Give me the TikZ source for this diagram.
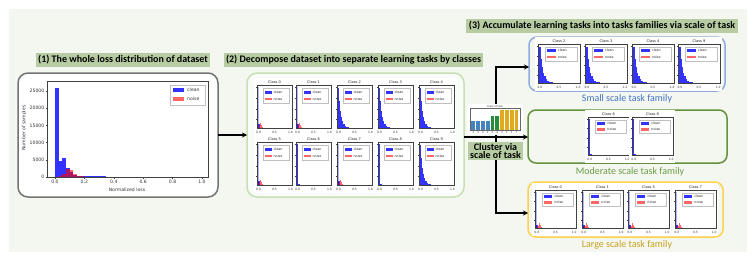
\documentclass[tikz,border=0pt]{standalone}
\usepackage{fontspec}
\setmainfont{Carlito}
\newfontfamily\plotfont{DejaVu Sans}
\usetikzlibrary{arrows.meta}
\definecolor{bgc}{RGB}{243,247,240}
\definecolor{lblc}{RGB}{183,204,163}
\definecolor{smallc}{RGB}{143,170,220}
\definecolor{smalltxt}{RGB}{68,114,196}
\definecolor{modc}{RGB}{100,145,60}
\definecolor{modtxt}{RGB}{106,156,68}
\definecolor{largec}{RGB}{255,210,80}
\definecolor{largetxt}{RGB}{200,160,30}
\definecolor{midc}{RGB}{198,224,180}
\definecolor{steel}{RGB}{70,130,190}
\definecolor{grn}{RGB}{40,140,60}
\definecolor{gold}{RGB}{225,170,30}
\tikzset{
 lbl/.style={fill=lblc, inner xsep=2.5pt, inner ysep=2pt, font=\bfseries\fontsize{10}{11}\selectfont, text height=7.5pt, text depth=2.2pt},
 clubox/.style={fill=lblc, align=center, font=\bfseries\fontsize{10}{8.8}\selectfont, inner sep=1pt, minimum width=55pt, minimum height=18pt},
 arr/.style={-{Stealth[length=5pt,width=5pt]}, line width=1.4pt},
 fam/.style={rounded corners=8pt, line width=1.5pt, inner sep=0, outer sep=0},
 famcap/.style={font=\fontsize{10}{11}\selectfont, inner sep=0},
 bb/.style={fill=blue, opacity=.8},
 rb/.style={fill=red, opacity=.6},
 lb/.style={fill=blue, opacity=.3},
 mtitle/.style={font=\plotfont\fontsize{3.6}{4}\selectfont, inner sep=0, text=black!85},
 mleg/.style={font=\plotfont\fontsize{3.3}{4}\selectfont, inner sep=0, anchor=west, text=black!85},
 mtick/.style={font=\plotfont\fontsize{3}{3.5}\selectfont, inner sep=0, text=black!80},
 stick/.style={font=\plotfont\fontsize{2.5}{3}\selectfont, inner sep=0, text=black!80},
 ptxt/.style={font=\plotfont\fontsize{4.6}{5}\selectfont, inner sep=0, text=black!80},
 frm/.style={draw=black!75, line width=.35pt},
}
\newcommand{\mhist}[7]{%
\begin{scope}[shift={(#2,#3)}]
 \fill[white] (-3,-7) rectangle (#4+2,#5+8);
 \node[mtitle] (#1t) at (#4/2,-3) {#6};
 \begin{scope}[shift={(0,#5)},xscale=#4,yscale=-#5]
  \ifcase#7\or
   \foreach \a/\b/\h in {0.03/0.06/0.92,0.06/0.09/0.62,0.09/0.12/0.40,0.12/0.15/0.26,0.15/0.18/0.17,0.18/0.22/0.10,0.22/0.27/0.05,0.27/0.35/0.02}
     \fill[bb] (\a,0) rectangle (\b,\h);
  \or
   \fill[bb] (0.035,0) rectangle (0.05,0.95);
   \fill[bb] (0.05,0) rectangle (0.10,0.02);
  \or
   \fill[lb] (0.035,0) rectangle (0.05,0.95);
   \fill[bb] (0.03,0) rectangle (0.08,0.09);
   \foreach \a/\b/\h in {0.06/0.09/0.06,0.09/0.12/0.12,0.12/0.15/0.07,0.15/0.18/0.03}
     \fill[rb] (\a,0) rectangle (\b,\h);
  \fi
  \draw[black!25,line width=.2pt,fill=white] (0.17,0.57) rectangle (0.93,0.92);
  \fill[bb] (0.22,0.80) rectangle (0.42,0.86);
  \fill[rb] (0.22,0.64) rectangle (0.42,0.70);
  \node[mleg] (#1c) at (0.47,0.83) {clean};
  \node[mleg] (#1n) at (0.47,0.67) {noise};
  \draw[frm] (0,0) rectangle (1,1);
  \foreach \t in {0.045,0.5,0.955} \draw[black!75,line width=.3pt] (\t,0) -- ++(0,-0.03);
  \foreach \t in {0.2,0.45,0.7,0.95} \draw[black!75,line width=.3pt] (0,\t) -- ++(-0.03,0);
  \node[mtick] (#1a) at (0.045,-0.11) {0.0};
  \node[mtick] (#1b) at (0.5,-0.11) {0.5};
  \node[mtick] (#1d) at (0.955,-0.11) {1.0};
 \end{scope}
\end{scope}}
\begin{document}
\begin{tikzpicture}[x=1pt,y=-1pt]
\useasboundingbox (0,0) rectangle (756,265);
\fill[bgc] (9,9) rectangle (747,252);
% section labels
\node[lbl] (l1) at (123,60) {(1) The whole loss distribution of dataset};
\node[lbl] (l2) at (353.5,60) {(2) Decompose dataset into separate learning tasks by classes};
\node[lbl] (l3) at (602,26) {(3) Accumulate learning tasks into tasks families via scale of task};
% left panel
\node[fam, draw=black!55, fill=white, rounded corners=10pt, minimum width=200pt, minimum height=124pt] (lp) at (118,135) {};
\begin{scope}[shift={(55,177)}, xscale=147, yscale=-3.44]
 \foreach \a/\b/\h in {0/0.025/26,0.025/0.05/4.6,0.05/0.075/5.6,0.075/0.1/2.6,0.1/0.125/1.4,0.125/0.15/0.7,0.15/0.2/0.35,0.2/0.35/0.15}
   \fill[bb] (\a,0) rectangle (\b,\h);
 \foreach \a/\b/\h in {0.025/0.05/0.2,0.05/0.075/0.8,0.075/0.1/2.3,0.1/0.125/2.0,0.125/0.15/1.0,0.15/0.175/0.4,0.175/0.2/0.2}
   \fill[rb] (\a,0) rectangle (\b,\h);
\end{scope}
\draw[frm] (47,81) rectangle (208,177);
\foreach \v/\n in {0/0,5/5000,10/10000,15/15000,20/20000,25/25000}{
  \draw[black!75,line width=.3pt] (47,177-3.44*\v) -- ++(-1.5,0);
  \node[ptxt, anchor=east] (yt\v) at (44.5,177-3.44*\v) {\n};}
\foreach \v/\n in {0/0.0,2/0.2,4/0.4,6/0.6,8/0.8,10/1.0}{
  \draw[black!75,line width=.3pt] (55+14.7*\v,177) -- ++(0,1.5);
  \node[ptxt] (xt\v) at (55+14.7*\v,182) {\n};}
\node[ptxt] (xl) at (127,190) {Normalized loss};
\node[ptxt, rotate=90] (yl) at (24,128) {Number of samples};
\draw[black!25,line width=.3pt,fill=white] (170,85) rectangle (205,105);
\fill[bb] (173,88) rectangle (184,92);
\fill[rb] (173,97) rectangle (184,101);
\node[ptxt, anchor=west] (lgc) at (187,90) {clean};
\node[ptxt, anchor=west] (lgn) at (187,99) {noise};
% middle panel
\node[fam, draw=midc, fill=white!50!bgc, rounded corners=10pt, minimum width=217pt, minimum height=124pt] (mp) at (355.5,135) {};
\mhist{m0}{257}{85}{35}{43}{Class 0}{3}
\mhist{m1}{296}{85}{35}{43}{Class 1}{3}
\mhist{m2}{337}{85}{35}{43}{Class 2}{1}
\mhist{m3}{378}{85}{35}{43}{Class 3}{1}
\mhist{m4}{419}{85}{35}{43}{Class 4}{1}
\mhist{m5}{257}{142}{35}{43}{Class 5}{3}
\mhist{m6}{296}{142}{35}{43}{Class 6}{2}
\mhist{m7}{337}{142}{35}{43}{Class 7}{3}
\mhist{m8}{378}{142}{35}{43}{Class 8}{2}
\mhist{m9}{419}{142}{35}{43}{Class 9}{1}
% families
\node[fam, draw=smallc, minimum width=196pt, minimum height=54pt] (sm) at (627,64) {};
\mhist{s2}{538}{44}{42}{39}{Class 2}{1}
\mhist{s3}{585}{44}{42}{39}{Class 3}{1}
\mhist{s4}{632}{44}{42}{39}{Class 4}{1}
\mhist{s9}{678}{44}{42}{39}{Class 9}{1}
\node[famcap, text=smalltxt] (smc) at (627,99) {Small scale task family};
\node[fam, draw=modc, minimum width=199pt, minimum height=53pt] (md) at (627.5,136.5) {};
\mhist{d6}{588}{117}{41}{38}{Class 6}{2}
\mhist{d8}{632}{117}{41}{38}{Class 8}{2}
\node[famcap, text=modtxt] (mdc) at (630,172) {Moderate scale task family};
\node[fam, draw=largec, minimum width=195pt, minimum height=55pt] (lg) at (625.5,209.5) {};
\mhist{g0}{535}{190}{41}{38}{Class 0}{3}
\mhist{g1}{582}{190}{41}{38}{Class 1}{3}
\mhist{g5}{628}{190}{41}{38}{Class 5}{3}
\mhist{g7}{675}{190}{41}{38}{Class 7}{3}
\node[famcap, text=largetxt] (lgcap) at (627,245) {Large scale task family};
% connectors
\coordinate (hub) at (496,137);
\draw[arr] (lp.east) -- (mp.west);
\draw[arr] (mp.east |- hub) -- (md.west |- hub);
\draw[arr] (hub) |- ([yshift=-3pt]sm.west);
\draw[arr] (hub) |- ([yshift=-3.5pt]lg.west);
% scale chart
\fill[white] (467,104) rectangle (523,134.5);
\node[stick] (sct) at (495,106.3) {Scale of task};
\draw[black!60, line width=.25pt] (470,108.5) rectangle (520,130);
\foreach \i/\c/\t/\n in {0/steel/121/2,1/steel/121/3,2/steel/121/4,3/steel/121/9,4/grn/115.7/6,5/grn/115.7/8,6/gold/110/0,7/gold/110/1,8/gold/110/5,9/gold/110/7}{
  \fill[\c] (471.4+4.8*\i,130) rectangle (475.2+4.8*\i,\t);
  \node[stick] (sb\i) at (473.3+4.8*\i,132.3) {\n};}
\node[clubox] (clu) at (495.5,151) {Cluster via\\scale of task};
\end{tikzpicture}
\end{document}
